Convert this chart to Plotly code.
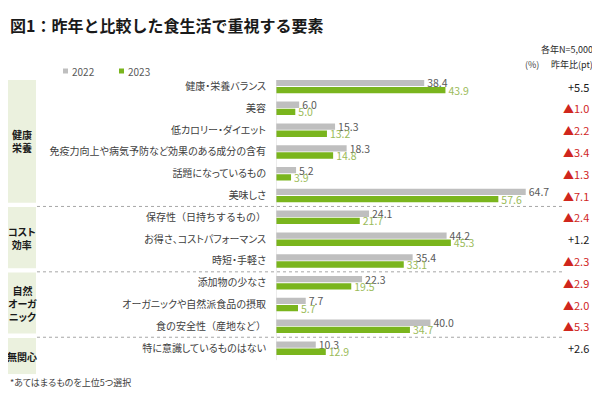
import plotly.graph_objects as go

# 食生活で重視する要素（各年N=5,000, %）
categories = [
    "健康・栄養バランス",
    "美容",
    "低カロリー・ダイエット",
    "免疫力向上や病気予防など効果のある成分の含有",
    "話題になっているもの",
    "美味しさ",
    "保存性（日持ちするもの）",
    "お得さ、コストパフォーマンス",
    "時短・手軽さ",
    "添加物の少なさ",
    "オーガニックや自然派食品の摂取",
    "食の安全性（産地など）",
    "特に意識しているものはない",
]
v2022 = [38.4, 6.0, 15.3, 18.3, 5.2, 64.7, 24.1, 44.2, 35.4, 22.3, 7.7, 40.0, 10.3]
v2023 = [43.9, 5.0, 13.2, 14.8, 3.9, 57.6, 21.7, 45.3, 33.1, 19.5, 5.7, 34.7, 12.9]
diff_pt = [5.5, -1.0, -2.2, -3.4, -1.3, -7.1, -2.4, 1.2, -2.3, -2.9, -2.0, -5.3, 2.6]

groups = ["健康<br>栄養", "コスト<br>効率", "自然<br>オーガ<br>ニック", "無関心"]
group_sizes = [6, 3, 3, 1]

FONT = "Noto Sans CJK JP"
GRAY = "#bfbfbf"
GREEN = "#7ab51d"
PALT = "font-feature-settings:'palt'"   # proportional kana, closer to the original font

# the page keeps the browser's 8px body margin, so the figure is drawn smaller
OFF = 8
W, H = 600 - OFF, 400 - 2 * OFF


def px(x):
    return max(x - OFF, 0) / W


def py(y):
    return 1 - (y - OFF) / H


def palt(s):
    # full-width brackets keep their wide spacing in the original
    if "（" in s:
        return s
    return f'<span style="{PALT}">{s}</span>'


fig = go.Figure()
fig.add_trace(go.Bar(
    y=categories, x=v2022, orientation="h", name="2022",
    marker=dict(color=GRAY, line=dict(width=0)),
    text=[f"{v:.1f}" for v in v2022], textposition="outside",
    textfont=dict(color="#595959", size=10.5),
    cliponaxis=False, constraintext="none",
))
fig.add_trace(go.Bar(
    y=categories, x=v2023, orientation="h", name="2023",
    marker=dict(color=GREEN, line=dict(width=0)),
    text=[f"{v:.1f}" for v in v2023], textposition="outside",
    textfont=dict(color="#9bbb59", size=10.5),
    cliponaxis=False, constraintext="none",
))

shapes = []
annotations = []

# group boxes on the left + dotted separators
start = 0
for i, (name, n) in enumerate(zip(groups, group_sizes)):
    end = start + n - 1
    y0 = start - 0.47
    y1 = end + 1.2 if i == len(groups) - 1 else end + 0.33
    shapes.append(dict(type="rect", xref="paper", yref="y",
                       x0=px(5), x1=px(36), y0=y0, y1=y1,
                       fillcolor="#ebf1de", line=dict(width=0), layer="below"))
    annotations.append(dict(xref="paper", yref="y", x=px(22), y=(max(y0, -0.3) + y1) / 2,
                            xanchor="center", yanchor="middle",
                            text=f"<b>{palt(name)}</b>", showarrow=False,
                            font=dict(size=10, color="#1a1a1a")))
    if start > 0:
        shapes.append(dict(type="line", xref="paper", yref="y",
                           x0=px(37), x1=px(562), y0=start - 0.5, y1=start - 0.5,
                           line=dict(color="#a6a6a6", width=1, dash="dot")))
    start += n

# axis line
shapes.append(dict(type="line", xref="x", yref="y", x0=0, x1=0, y0=-0.3, y1=12.55,
                   line=dict(color="#d9d9d9", width=1)))

# 昨年比 column
for cat, d in zip(categories, diff_pt):
    if d >= 0:
        txt, col = f"+{d:.1f}", "#1a1a1a"
    else:
        txt, col = f"▲{abs(d):.1f}", "#d0261d"
    annotations.append(dict(xref="paper", yref="y", x=px(591), y=cat, text=txt,
                            xanchor="right", yanchor="middle", showarrow=False,
                            font=dict(size=11, color=col)))

# header texts
annotations += [
    dict(xref="paper", yref="paper", x=px(5), y=py(25), xanchor="left", yanchor="middle",
         text="<b>図1：昨年と比較した食生活で重視する要素</b>", showarrow=False,
         font=dict(size=16, color="#1a1a1a")),
    dict(xref="paper", yref="paper", x=px(595), y=py(49), xanchor="right", yanchor="middle",
         text="各年N=5,000", showarrow=False, font=dict(size=9, color="#262626")),
    dict(xref="paper", yref="paper", x=px(532), y=py(64), xanchor="center", yanchor="middle",
         text="(%)", showarrow=False, font=dict(size=9, color="#404040")),
    dict(xref="paper", yref="paper", x=px(595), y=py(64), xanchor="right", yanchor="middle",
         text="昨年比(pt)", showarrow=False, font=dict(size=9, color="#262626")),
    dict(xref="paper", yref="paper", x=px(5), y=py(382), xanchor="left", yanchor="middle",
         text=palt("*あてはまるものを上位5つ選択"), showarrow=False,
         font=dict(size=9, color="#404040")),
]

# legend drawn by hand (small squares)
for name, col, x in [("2022", GRAY, 63), ("2023", GREEN, 119)]:
    shapes.append(dict(type="rect", xref="paper", yref="paper",
                       x0=px(x), x1=px(x + 5), y0=py(73.5), y1=py(68.5),
                       fillcolor=col, line=dict(width=0)))
    annotations.append(dict(xref="paper", yref="paper", x=px(x + 7), y=py(71),
                            xanchor="left", yanchor="middle", text=name, showarrow=False,
                            font=dict(size=10, color="#595959")))

fig.update_layout(
    template="none",
    width=W, height=H,
    margin=dict(l=0, r=0, t=0, b=0),
    paper_bgcolor="white", plot_bgcolor="white",
    font=dict(family=FONT, color="#404040"),
    barmode="group", bargap=0.34, bargroupgap=0.12,
    showlegend=False,
    shapes=shapes, annotations=annotations,
    xaxis=dict(domain=[px(276), px(584.8)], range=[0, 80], visible=False,
               automargin=False),
    yaxis=dict(domain=[py(374.3), py(80)], range=[13.2, -0.3], type="category",
               categoryorder="array", categoryarray=categories,
               tickvals=categories, ticktext=[palt(c) for c in categories],
               showgrid=False, zeroline=False, showline=False, ticks="",
               ticklabelstandoff=9, automargin=False,
               tickfont=dict(size=10, color="#404040")),
)

fig.write_html("out.html")
